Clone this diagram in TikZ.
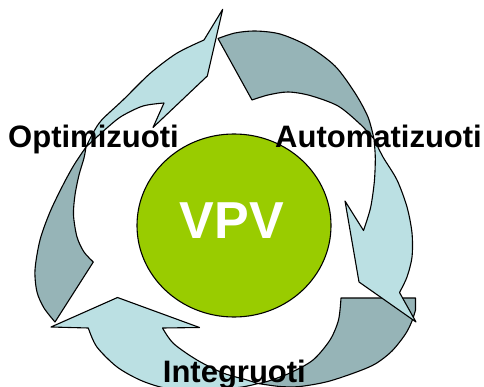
\documentclass[tikz,border=0pt]{standalone}
\usepackage{fontspec}
\setmainfont{Liberation Sans}
\usetikzlibrary{shapes.geometric}
\definecolor{facelight}{RGB}{187,224,227}
\definecolor{facedark}{RGB}{150,180,183}
\definecolor{hubgreen}{RGB}{153,204,0}

\begin{document}
\begin{tikzpicture}[x=1pt,y=-1pt,
  face/.style={draw=black, line width=1.1pt, line join=round},
  lightface/.style={face, fill=facelight},
  darkface/.style={face, fill=facedark},
  cyclelabel/.style={font=\fontsize{31}{31}\selectfont\bfseries, anchor=base west, inner sep=0pt}]
\useasboundingbox (0,0) rectangle (484,387);
\clip (0,0) rectangle (484,387);

% back (dark) faces of the three twisted arrows
\path[darkface] (341,298) -- (415.5,298) -- (415.5,310)
  -- plot[smooth] coordinates {(415.5,310) (412,321) (405.5,334) (392,351) (376,363.5) (358,371.5) (328,381.5) (300,386.5) (280,386.5) (258,383.5)}
  -- plot[smooth] coordinates {(258,383.5) (267,381.5) (290,373) (313,360) (330,340) (338.5,320) (341,298)}
  -- cycle;
\path[darkface] (218,38.5) -- (252,100)
  -- plot[smooth] coordinates {(252,100) (268,95) (288,92) (310,95.5) (338,106) (360,124) (374,139)}
  -- plot[smooth] coordinates {(374,139) (368,117) (355,93) (335,66) (308,46) (280,34) (255,31) (235,33) (218,38.5)}
  -- cycle;
\path[darkface] (86,147)
  -- plot[smooth] coordinates {(86,147) (74,165) (63,185) (50,212) (40,240) (35,270) (37,292) (44,308) (55,322)}
  -- (93.3,262)
  -- plot[smooth] coordinates {(93.3,262) (84,252) (77,237) (73.5,215) (75,195) (79,175) (84,158) (86,147)}
  -- cycle;

% front (light) faces with the arrow heads
\path[lightface] (258,383.5)
  -- plot[smooth] coordinates {(258,383.5) (247,380) (223,373) (197,360) (173.5,343.5) (162.5,328)}
  -- (199.5,327.5) -- (117.5,297.5) -- (51,327) -- (88.3,328)
  -- plot[smooth] coordinates {(88.3,328) (96.7,346.7) (116.7,366.7) (140,380) (165,388) (200,391) (240,387.3) (258,383.5)}
  -- cycle;
\path[lightface] (374,139)
  -- plot[smooth] coordinates {(374,139) (383,157) (397,180) (407,207) (412,233) (412,257) (407,277) (399.5,292.5)}
  -- (416,322) -- (359,282) -- (345,201) -- (363.5,230.5)
  -- plot[smooth] coordinates {(363.5,230.5) (370.5,208) (374.3,182) (375.3,158) (374,139)}
  -- cycle;
\path[lightface] (86,147)
  -- plot[smooth] coordinates {(86,147) (93,133) (101.7,120) (123,100) (150,73.5) (176.7,53.3) (204,40)}
  -- (222.7,9.3) -- (207.3,76) -- (153,127.5) -- (164,103)
  -- plot[smooth] coordinates {(164,103) (143,106) (122,116) (108,127) (86,147)}
  -- cycle;

% hub
\node[draw=black, line width=1.1pt, fill=hubgreen, ellipse, minimum width=194pt, minimum height=183pt, inner sep=0pt] (hub) at (234,225.5) {};
\node[font=\fontsize{52}{52}\selectfont\bfseries, text=white, inner sep=0pt] (hubtext) at (232,220.5) {VPV};

% stage labels
\node[cyclelabel] (opt) at (8,147.5) {Optimizuoti};
\node[cyclelabel] (auto) at (275,147.5) {Automatizuoti};
\node[cyclelabel] (integ) at (162.7,382) {Integruoti};
\end{tikzpicture}
\end{document}
